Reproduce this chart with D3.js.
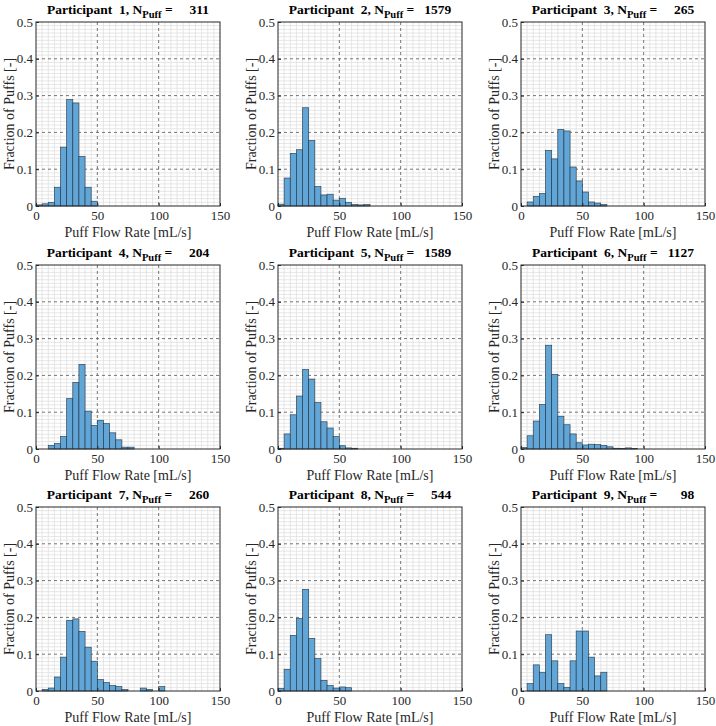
<!DOCTYPE html>
<html>
<head>
<meta charset="utf-8">
<script src="https://cdn.jsdelivr.net/npm/d3@7"></script>
<style>
  body { margin: 0; background: #fff; }
  text { font-family: "Liberation Serif", "Times New Roman", serif; fill: #262626; }
</style>
</head>
<body>
<div id="chart-area"></div>
<script>
// histogram bins are 5 mL/s wide, starting at 0
const BIN_WIDTH = 5
const participants = [1, 2, 3, 4, 5, 6, 7, 8, 9]
const nPuff = [311, 1579, 265, 204, 1589, 1127, 260, 544, 98]
const xTicks = [0, 50, 100, 150]
const yTicks = [0, 0.1, 0.2, 0.3, 0.4, 0.5]

// fraction of puffs per bin (bin i = [5i, 5i+5))
const frac1 = [0.003, 0.006, 0.010, 0.051, 0.160, 0.289, 0.280, 0.135, 0.051, 0.013]
const frac2 = [0.005, 0.076, 0.143, 0.153, 0.267, 0.178, 0.053, 0.030, 0.032, 0.016, 0.021, 0.010, 0.004, 0.003, 0.004]
const frac3 = [0, 0.011, 0.026, 0.034, 0.151, 0.128, 0.208, 0.204, 0.106, 0.068, 0.038, 0.011, 0.008, 0.004]
const frac4 = [0, 0, 0.010, 0.015, 0.034, 0.137, 0.181, 0.230, 0.103, 0.064, 0.078, 0.069, 0.044, 0.025, 0.005, 0.005]
const frac5 = [0.002, 0.041, 0.093, 0.144, 0.216, 0.190, 0.126, 0.074, 0.057, 0.034, 0.009, 0.003, 0.002]
const frac6 = [0.004, 0.036, 0.076, 0.121, 0.282, 0.203, 0.089, 0.066, 0.041, 0.017, 0.011, 0.013, 0.012, 0.010, 0.006, 0.002, 0.001, 0.003, 0.001]
const frac7 = [0, 0.004, 0.008, 0.038, 0.092, 0.192, 0.196, 0.162, 0.119, 0.081, 0.031, 0.023, 0.015, 0.012, 0.004, 0, 0, 0.008, 0.004, 0, 0.012]
const frac8 = [0.007, 0.059, 0.151, 0.197, 0.276, 0.143, 0.088, 0.029, 0.015, 0.008, 0.011, 0.009]
const frac9 = [0, 0.020, 0.071, 0.051, 0.153, 0.082, 0.020, 0.010, 0.082, 0.163, 0.163, 0.092, 0.041, 0.051]
const fractions = [frac1, frac2, frac3, frac4, frac5, frac6, frac7, frac8, frac9]

const COL_LEFT = [36, 278, 521]
const ROW_TOP = [22, 265, 507]
const PW = 184
const PH = 184

const svg = d3.select("#chart-area").append("svg")
	.attr("width", 716)
	.attr("height", 726)

const x = d3.scaleLinear().domain([0, 150]).range([0, PW])
const y = d3.scaleLinear().domain([0, 0.5]).range([PH, 0])

participants.forEach((p, i) => {
	const g = svg.append("g")
		.attr("transform", `translate(${COL_LEFT[i % 3]}, ${ROW_TOP[Math.floor(i / 3)]})`)

	// minor grid
	const minorX = d3.range(0, 151, 5).filter(v => v % 50 !== 0)
	const minorY = d3.range(1, 50).filter(v => v % 10 !== 0).map(v => v / 100)
	g.selectAll(".minor-x").data(minorX).enter().append("line")
		.attr("x1", d => x(d)).attr("x2", d => x(d))
		.attr("y1", 0).attr("y2", PH)
		.attr("stroke", "#e0e0e0").attr("stroke-width", 0.8)
	g.selectAll(".minor-y").data(minorY).enter().append("line")
		.attr("x1", 0).attr("x2", PW)
		.attr("y1", d => y(d)).attr("y2", d => y(d))
		.attr("stroke", "#e0e0e0").attr("stroke-width", 0.8)

	// major grid (dashed)
	g.selectAll(".major-x").data(xTicks.slice(1, -1)).enter().append("line")
		.attr("x1", d => x(d)).attr("x2", d => x(d))
		.attr("y1", 0).attr("y2", PH)
		.attr("stroke", "#666").attr("stroke-width", 0.9)
		.attr("stroke-dasharray", "3,3")
	g.selectAll(".major-y").data(yTicks.slice(1, -1)).enter().append("line")
		.attr("x1", 0).attr("x2", PW)
		.attr("y1", d => y(d)).attr("y2", d => y(d))
		.attr("stroke", "#666").attr("stroke-width", 0.9)
		.attr("stroke-dasharray", "3,3")

	// bars
	const bins = fractions[i].map((v, k) => ({ k, v })).filter(d => d.v > 0)
	g.selectAll(".bar").data(bins)
		.enter().append("rect")
		.attr("x", d => x(d.k * BIN_WIDTH))
		.attr("width", x(BIN_WIDTH) - x(0))
		.attr("y", d => y(d.v))
		.attr("height", d => y(0) - y(d.v))
		.attr("fill", "#62a6d8")
		.attr("stroke", "#1d2f3d")
		.attr("stroke-opacity", 0.85)
		.attr("stroke-width", 0.7)

	// box
	g.append("rect")
		.attr("width", PW).attr("height", PH)
		.attr("fill", "none")
		.attr("stroke", "#262626").attr("stroke-width", 1)

	// axes (ticks point inward like the original)
	const xAxisCall = d3.axisBottom(x).tickValues(xTicks).tickSize(-3).tickPadding(5).tickFormat(d => d)
	const xa = g.append("g")
		.attr("transform", `translate(0, ${PH})`)
		.call(xAxisCall)
	const yAxisCall = d3.axisLeft(y).tickValues(yTicks).tickSize(-3).tickPadding(3).tickFormat(d => d === 0 ? "0" : d3.format(".1f")(d))
	const ya = g.append("g").call(yAxisCall)
	;[xa, ya].forEach(a => {
		a.select(".domain").remove()
		a.selectAll("line").attr("stroke", "#262626")
		a.selectAll("text")
			.attr("font-family", "Liberation Serif, serif")
			.attr("font-size", "13px")
			.attr("fill", "#262626")
	})

	// X Label
	g.append("text")
		.attr("x", PW / 2)
		.attr("y", PH + 31)
		.attr("font-size", "14px")
		.attr("text-anchor", "middle")
		.text("Puff Flow Rate [mL/s]")

	// Y Label
	g.append("text")
		.attr("transform", "rotate(-90)")
		.attr("x", -PH / 2)
		.attr("y", -22)
		.attr("font-size", "14px")
		.attr("text-anchor", "middle")
		.text("Fraction of Puffs [-]")

	// Title
	const title = g.append("text")
		.attr("x", PW / 2)
		.attr("y", -8)
		.attr("font-size", "13.5px")
		.attr("font-weight", "bold")
		.attr("text-anchor", "middle")
		.style("fill", "#000")
		.style("white-space", "pre")
	title.append("tspan").text(`Participant  ${p}, N`)
	title.append("tspan").attr("dy", 4).attr("font-size", "10.5px").text("Puff")
	title.append("tspan").attr("dy", -4).text(" = " + String(nPuff[i]).padStart(5, "\u2007"))
})
</script>
</body>
</html>
